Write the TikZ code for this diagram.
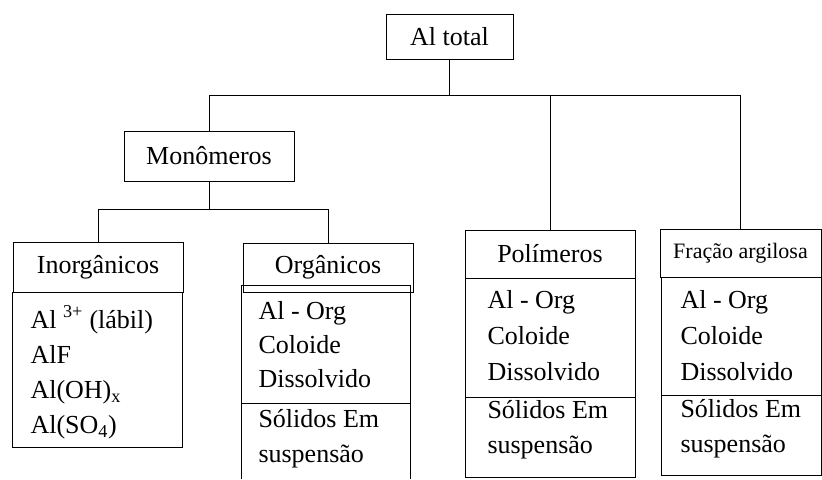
\documentclass[tikz,border=0pt]{standalone}
\usepackage{fontspec}
\setmainfont{Liberation Serif}
\tikzset{every picture/.style={line width=0.75pt}}
\tikzset{
	titlebox/.style={draw, inner sep=0pt, minimum width=127.5pt, minimum height=37.5pt, font=\fontsize{19.5}{23}\selectfont},
	boxtext/.style={anchor=base west, inner sep=0pt, font=\fontsize{19.5}{23}\selectfont}}

\begin{document}
\begin{tikzpicture}[x=0.75pt,y=0.75pt,yscale=-1,xscale=1]
	\useasboundingbox (0,0) rectangle (822,479);
	
	% Title boxes
	\node [titlebox, minimum width=95.25pt, minimum height=33.75pt] (altotal) at (449.5,37) {Al total};
	\node [titlebox] (monomeros) at (209,156) {Monômeros};
	\node [titlebox] (inorg) at (98,267) {Inorgânicos};
	\node [titlebox, minimum height=36.75pt] (org) at (328,267.5) {Orgânicos};
	\node [titlebox, minimum height=36pt] (polim) at (550,254) {Polímeros};
	\node [titlebox, minimum width=120.75pt, minimum height=36pt, font=\fontsize{16.5}{19}\selectfont] (fracao) at (740.5,253) {Fração argilosa};
	
	% Connectors
	\coordinate (bus) at (450,95);
	\coordinate (bus2) at (209,209);
	\draw (altotal.south) -- (altotal.south |- bus);
	\draw (monomeros.north) |- (fracao.north |- bus) -- (fracao.north);
	\draw (polim.north) -- (polim.north |- bus);
	\draw (monomeros.south) -- (monomeros.south |- bus2);
	\draw (inorg.north) |- (org.north |- bus2) -- (org.north);
	
	% Content boxes
	\draw (12,292) rectangle (182,447);
	\draw (241,479) -- (241,285) -- (410,285) -- (410,479);
	\draw (241,403) -- (410,403);
	\draw (465,278) rectangle (635,477);
	\draw (465,397) -- (635,397);
	\draw (661,277) rectangle (821,475);
	\draw (661,395) -- (821,395);
	
	% Text Node
	\node [boxtext] (inorga) at (30,328) {Al \textsuperscript{3+} (lábil)};
	\node [boxtext] (inorgb) at (30,363) {AlF};
	\node [boxtext] (inorgc) at (30,398) {Al(OH)\textsubscript{x}};
	\node [boxtext] (inorgd) at (30,433) {Al(SO\textsubscript{4})};
	% Text Node
	\node [boxtext] (orga) at (258,319) {Al - Org};
	\node [boxtext] (orgb) at (258,353) {Coloide};
	\node [boxtext] (orgc) at (258,387) {Dissolvido};
	\node [boxtext] (orgd) at (258,427) {Sólidos Em};
	\node [boxtext] (orge) at (258,462) {suspensão};
	% Text Node
	\node [boxtext] (polima) at (487,308) {Al - Org};
	\node [boxtext] (polimb) at (487,344) {Coloide};
	\node [boxtext] (polimc) at (487,380) {Dissolvido};
	\node [boxtext] (polimd) at (487,418) {Sólidos Em};
	\node [boxtext] (polime) at (487,453) {suspensão};
	% Text Node
	\node [boxtext] (fracaoa) at (680,308) {Al - Org};
	\node [boxtext] (fracaob) at (680,344) {Coloide};
	\node [boxtext] (fracaoc) at (680,380) {Dissolvido};
	\node [boxtext] (fracaod) at (680,417) {Sólidos Em};
	\node [boxtext] (fracaoe) at (680,452) {suspensão};
	
\end{tikzpicture}
\end{document}
